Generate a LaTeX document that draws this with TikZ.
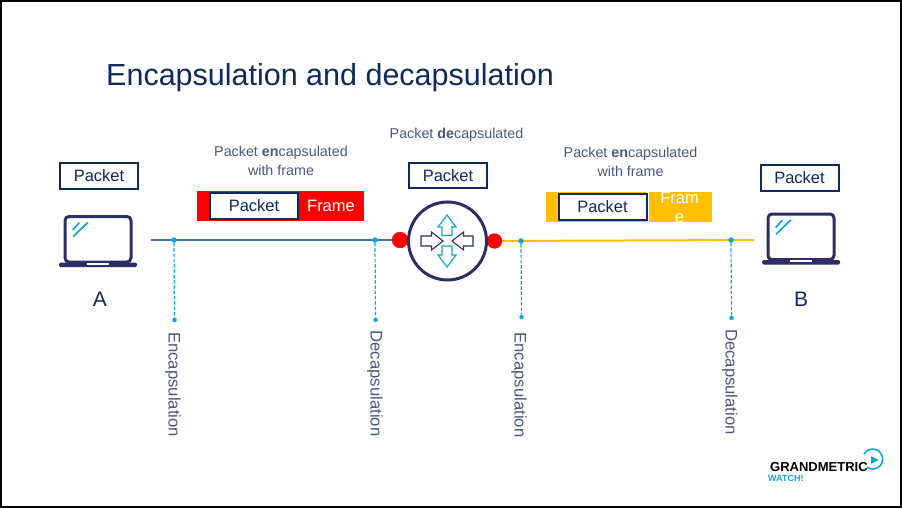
\documentclass[tikz,border=0pt]{standalone}
\usepackage{fontspec}
\setmainfont{Liberation Sans}
\definecolor{navy}{HTML}{0F2A5F}
\definecolor{icon}{HTML}{2B2F66}
\definecolor{greyblue}{HTML}{4A5A7E}
\definecolor{cyanb}{HTML}{12A5DC}
\definecolor{wire}{HTML}{4276AE}
\definecolor{amber}{HTML}{FFC000}
\begin{document}
\begin{tikzpicture}[x=1pt,y=-1pt,
  pkt/.style={draw=navy,line width=2pt,fill=white,minimum width=#1,minimum height=26pt,inner sep=0pt,text=navy,font=\fontsize{16.5}{18}\selectfont},
  pkt/.default=78pt,
  captxt/.style={text=greyblue,align=center,font=\fontsize{14.3}{18.5}\selectfont,inner sep=0pt},
  vert/.style={rotate=-90,text=greyblue,font=\fontsize{16.7}{17}\selectfont,inner sep=0pt},
  drop/.style={cyanb,line width=1.2pt,dash pattern=on 3.5pt off 1.8pt},
  dotc/.style={circle,fill=cyanb,minimum size=5.5pt,inner sep=0pt},
  hit/.style={circle,fill=red,minimum size=16pt,inner sep=0pt},
  lap/.style={draw=icon,line width=3pt,rounded corners=4pt},
  arrc/.style={draw=cyanb,line width=1.2pt,fill=white,line join=miter},
  arrd/.style={draw=icon,line width=1.1pt,fill=white,line join=miter}]
\useasboundingbox (0,0) rectangle (902,508);
\draw[black,line width=2pt,fill=white] (1,1) rectangle (901,507);

\node[text=navy,anchor=west,inner sep=0pt,font=\fontsize{30.5}{32}\selectfont] (title) at (106,78) {Encapsulation and decapsulation};

% wires
\coordinate (w0) at (151,240);
\coordinate (y1) at (754,240);
\node[hit] (hl) at (400,240) {};
\node[hit,minimum size=15pt] (hr) at (494.5,241) {};
\draw[wire,line width=2pt] (w0) -- (hl);
\draw[amber,line width=2pt] (hr) -- (y1);
\node[hit] at (400,240) {};
\node[hit,minimum size=15pt] at (494.5,241) {};

% router
\node[circle,draw=icon,line width=3pt,fill=white,minimum size=78pt,inner sep=0pt] (router) at (447.5,241) {};
\draw[arrc] (447,215) -- (456,227) -- (452,227) -- (452,235.5) -- (442,235.5) -- (442,227) -- (438,227) -- cycle;
\draw[arrc] (447,267) -- (456,255) -- (452,255) -- (452,246) -- (442,246) -- (442,255) -- (438,255) -- cycle;
\draw[arrd] (443,241) -- (431.5,232) -- (431.5,236) -- (421,236) -- (421,246) -- (431.5,246) -- (431.5,250) -- cycle;
\draw[arrd] (452,241) -- (463.5,232) -- (463.5,236) -- (473,236) -- (473,246) -- (463.5,246) -- (463.5,250) -- cycle;

% drop lines
\foreach \n/\x/\ya/\yb in {a/174/240/320,b/375/240/320,c/521/241/317,d/731/240/318}{
  \node[dotc] (t\n) at (\x,\ya) {};
  \node[dotc,minimum size=4.5pt] (e\n) at (\x+.5,\yb) {};
  \draw[drop] (t\n) -- (e\n);
}
\node[vert] (va) at (173,384.5) {Encapsulation};
\node[vert] (vb) at (375,383.5) {Decapsulation};
\node[vert] (vc) at (519,385) {Encapsulation};
\node[vert] (vd) at (730,382) {Decapsulation};

% packets
\node[pkt] (pa) at (99,175.5) {Packet};
\node[pkt,minimum height=25pt] (pr) at (448,175.5) {Packet};
\node[pkt] (pb) at (799.5,177.5) {Packet};

% left frame
\fill[red] (197,191) rectangle (364,221);
\node[pkt=88pt] (pl) at (254,206) {Packet};
\node[text=white,inner sep=0pt,font=\fontsize{16.5}{18}\selectfont] (fl) at (331,206) {Frame};

% right frame
\fill[amber] (546,192) rectangle (712,222);
\fill[white] (647,192) rectangle (648.5,222);
\node[pkt=88pt] (pm) at (602.5,207) {Packet};
\begin{scope}
\clip (648,192) rectangle (712,222);
\node[text=white,inner sep=0pt,align=center,font=\fontsize{16.5}{19}\selectfont] (fr) at (679.5,207) {Fram\\e};
\end{scope}

% captions
\node[captxt] (c1) at (281,161) {Packet \textbf{en}capsulated\\with frame};
\node[captxt] (c2) at (456.5,135) {Packet \textbf{de}capsulated};
\node[captxt] (c3) at (630.5,162) {Packet \textbf{en}capsulated\\with frame};

% laptops
\foreach \n/\ox/\oy in {A/65/215,B/768/212.5}{
  \begin{scope}[shift={(\ox,\oy)}]
    \draw[lap] (0,47) -- (0,1.5) -- (66,1.5) -- (66,47) -- cycle;
    \fill[icon,rounded corners=1.5pt] (-6,47.5) rectangle (72,52);
    \fill[white] (22,47.7) rectangle (44,49.5);
    \draw[cyanb,line width=1.7pt] (7.7,15) -- (14.3,7.7);
    \draw[cyanb,line width=1.7pt] (8,21.7) -- (23,7.3);
  \end{scope}
}
\node[text=navy,inner sep=0pt,font=\fontsize{21}{24}\selectfont] (la) at (100,299) {A};
\node[text=navy,inner sep=0pt,font=\fontsize{21}{24}\selectfont] (lb) at (801,299) {B};

% logo
\node[anchor=west,inner sep=0pt,text=black,font=\fontsize{13}{15}\bfseries\selectfont] (gm) at (770,467.5) {GRANDMETRIC};
\node[anchor=west,inner sep=0pt,text=cyanb,font=\fontsize{9}{11}\selectfont\bfseries] (wt) at (768,478.5) {WATCH!};
\draw[cyanb,line width=1.6pt] (864,454) arc[start angle=-150,end angle=125,radius=10];
\fill[cyanb] (871,456) -- (878.5,460) -- (871,464) -- cycle;
\end{tikzpicture}
\end{document}
